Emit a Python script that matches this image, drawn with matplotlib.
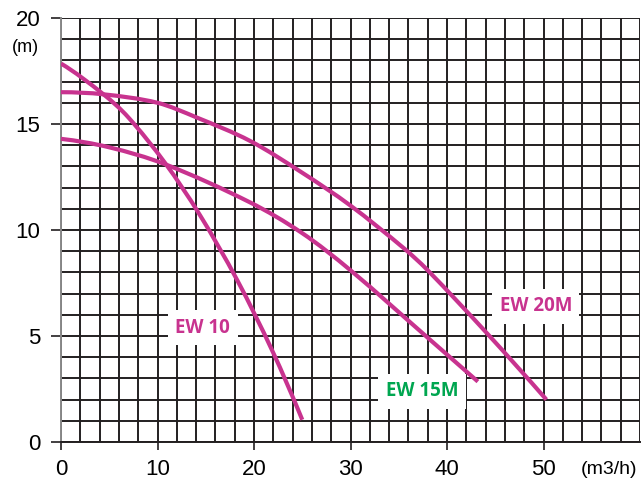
import matplotlib
matplotlib.use("Agg")
import matplotlib.pyplot as plt
from matplotlib.path import Path
from matplotlib.patches import PathPatch
import numpy as np

# Data
ew10_x = [0, 4.4, 7, 10.8, 14.4, 18.3, 21.9, 25.0]
ew10_y = [17.85, 16.4, 15.3, 13.15, 10.7, 7.6, 4.3, 1.05]

ew15_x = [0, 5, 10.8, 19.6, 25, 30, 38.3, 43.2]
ew15_y = [14.3, 13.9, 13.1, 11.3, 9.85, 8.1, 4.8, 2.85]

ew20_x = [0, 4.4, 10, 14.1, 19.6, 25, 30, 35.5, 38, 44.2, 50.3]
ew20_y = [16.5, 16.4, 16.0, 15.3, 14.2, 12.7, 11.15, 9.15, 8.1, 5.1, 2.0]

labels = ["EW 10", "EW 15M", "EW 20M"]
label_pos = [(14.7, 5.4), (37.4, 2.4), (49.2, 6.4)]
label_colors = ["#c8338f", "#00a650", "#c8338f"]

x_ticks = [0, 10, 20, 30, 40, 50]
y_ticks = [0, 5, 10, 15, 20]

magenta = "#c8338f"

fig = plt.figure(figsize=(6.43, 4.82), dpi=100)
ax = fig.add_axes([61/643, 40/482, 579/643, 424/482])
ax.set_xlim(0, 60)
ax.set_ylim(0, 20)

# grid
for gx in np.arange(0, 61, 2):
    ax.axvline(gx, color="#231f20", lw=1.4, zorder=1)
for gy in np.arange(0, 21, 1):
    ax.axhline(gy, color="#231f20", lw=1.4, zorder=1)


def smooth_path(xs, ys):
    # cubic Hermite (x as parameter) through the read points, as Bezier segments
    x = np.asarray(xs, float)
    y = np.asarray(ys, float)
    n = len(x)
    m = np.empty(n)
    for i in range(1, n - 1):
        m[i] = (y[i + 1] - y[i - 1]) / (x[i + 1] - x[i - 1])

    def end_slope(x0, x1, x2, y0, y1, y2):
        c = np.polyfit([x0, x1, x2], [y0, y1, y2], 2)
        return 2 * c[0] * x0 + c[1]
    m[0] = end_slope(x[0], x[1], x[2], y[0], y[1], y[2])
    m[-1] = end_slope(x[-1], x[-2], x[-3], y[-1], y[-2], y[-3])
    verts = [(x[0], y[0])]
    codes = [Path.MOVETO]
    for i in range(n - 1):
        h = x[i + 1] - x[i]
        verts += [(x[i] + h / 3, y[i] + m[i] * h / 3),
                  (x[i + 1] - h / 3, y[i + 1] - m[i + 1] * h / 3),
                  (x[i + 1], y[i + 1])]
        codes += [Path.CURVE4] * 3
    return Path(verts, codes)


for xs, ys in [(ew10_x, ew10_y), (ew15_x, ew15_y), (ew20_x, ew20_y)]:
    ax.add_patch(PathPatch(smooth_path(xs, ys), fc="none", ec=magenta,
                           lw=3, capstyle="butt", zorder=3))

for t, (lx, ly), c in zip(labels, label_pos, label_colors):
    ax.text(lx, ly, t, color=c, fontsize=13.5, fontweight="bold",
            family="Open Sans", ha="center", va="center", zorder=4,
            bbox=dict(boxstyle="square,pad=0.4", fc="white", ec="none"))

for s in ["top", "right"]:
    ax.spines[s].set_visible(False)
ax.spines["left"].set_color("#888888")
ax.spines["bottom"].set_color("#231f20")
ax.spines["left"].set_linewidth(1.4)
ax.spines["bottom"].set_linewidth(1.4)

ax.set_xticks(x_ticks)
ax.set_yticks(y_ticks)
ax.set_xticklabels([str(v) for v in x_ticks], family="Liberation Sans")
ax.set_yticklabels([str(v) for v in y_ticks], family="Liberation Sans")
ax.tick_params(axis="both", direction="out", length=6, width=1.2,
               color="#231f20", labelsize=16, pad=6)
ax.tick_params(axis="y", length=7, pad=8)

fig.text(25/643, 1 - 47/482, "(m)", fontsize=13, family="Liberation Sans",
         ha="center", va="center")
fig.text(609/643, 1 - 470/482, "(m3/h)", fontsize=14, family="Liberation Sans",
         ha="center", va="center")

fig.savefig("out.png", dpi=100)
